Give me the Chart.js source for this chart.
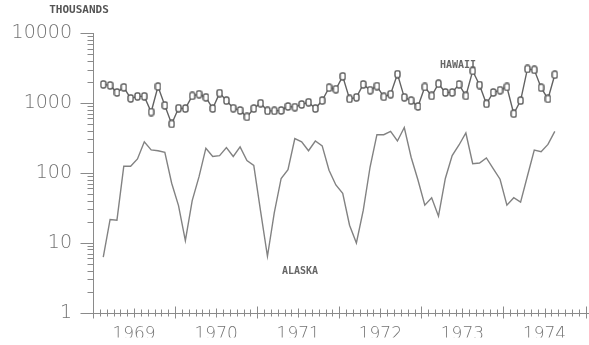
<!DOCTYPE html>
<html>
<head>
<meta charset="utf-8">
<script src="https://cdn.jsdelivr.net/npm/chart.js@4.4.1/dist/chart.umd.min.js"></script>
<style>
    html, body { margin: 0; padding: 0; background: #fff; overflow: hidden; }
    #wrap { width: 589px; height: 345px; position: relative; }
</style>
</head>
<body>
<div id="wrap"><canvas id="visitorChart"></canvas></div>
<script>
// monthly series, first point = Feb 1969 (x counted in months from Jan 1969, mid-month)
const yearLabels = ['1969', '1970', '1971', '1972', '1973', '1974'];
const firstMonth = 1.5;
const yTicks = [1, 10, 100, 1000, 10000];

const hawaii = [1840, 1780, 1410, 1670, 1160, 1240, 1240, 740, 1710, 920,
    500, 840, 830, 1260, 1330, 1200, 830, 1380, 1080, 840,
    780, 630, 830, 990, 770, 770, 780, 890, 870, 950,
    1020, 830, 1080, 1650, 1570, 2400, 1140, 1200, 1840, 1520,
    1740, 1220, 1330, 2580, 1200, 1080, 890, 1690, 1260, 1880,
    1410, 1410, 1840, 1260, 2870, 1800, 970, 1410, 1520, 1690,
    700, 1080, 3060, 2970, 1650, 1140, 2530];

const alaska = [6.2, 21.5, 21, 124, 124, 158, 278, 213, 207, 196,
    71, 34, 10.7, 40, 88, 225, 171, 176, 230, 171,
    235, 150, 128, 28, 6.4, 27, 83, 111, 309, 278,
    207, 285, 243, 109, 67, 51, 17.8, 9.9, 29, 121,
    351, 351, 392, 285, 445, 167, 79, 34.5, 44, 24,
    83, 176, 250, 371, 135, 138, 163, 115, 81, 34.5,
    44, 38, 90, 211, 200, 255, 392];

const labelColor = '#737373';
const axisColor = '#8a8a8a';

// little "0"-shaped marker like the plotter used
function makeMarker() {
    const c = document.createElement('canvas');
    c.width = 7; c.height = 9;
    const g = c.getContext('2d');
    g.fillStyle = '#fff';
    g.strokeStyle = '#5a5a5a';
    g.lineWidth = 1.4;
    g.beginPath();
    g.roundRect(1, 1, 5, 7, 2);
    g.fill();
    g.stroke();
    return c;
}

const axisMarks = {
    id: 'axisMarks',
    afterDraw(chart) {
        const { ctx, chartArea, scales: { x, y } } = chart;
        ctx.save();
        ctx.strokeStyle = axisColor;
        ctx.lineWidth = 1;
        ctx.beginPath();
        const left = Math.round(chartArea.left) + 0.5;
        const bottom = Math.round(chartArea.bottom) + 0.5;
        ctx.moveTo(left, Math.round(y.getPixelForValue(10000)));
        ctx.lineTo(left, bottom);
        ctx.lineTo(chart.width, bottom);

        for (let m = 0; m <= x.max; m++) {
            const px = Math.round(x.getPixelForValue(m)) + 0.5;
            let up = 4, down = 3;
            if (m % 12 === 0) { up = 7; down = 5; }
            else if (m % 12 === 6) { up = 5; down = 4; }
            ctx.moveTo(px, bottom - up);
            ctx.lineTo(px, bottom + down);
        }

        for (let d = 1; d <= 10000; d *= 10) {
            for (let k = 1; k < 10; k++) {
                const v = d * k;
                if (v > 10000) break;
                const py = Math.round(y.getPixelForValue(v)) + 0.5;
                const len = k === 1 ? 13 : 6;
                ctx.moveTo(left - len, py);
                ctx.lineTo(left, py);
            }
        }
        ctx.stroke();

        ctx.fillStyle = '#555';
        ctx.textAlign = 'center';
        ctx.textBaseline = 'middle';
        ctx.font = 'bold 11px "DejaVu Sans Mono"';
        ctx.fillText('THOUSANDS', 79, 10);
        ctx.fillStyle = '#666';
        ctx.font = 'bold 10px "DejaVu Sans Mono"';
        ctx.fillText('HAWAII', 458, 65);
        ctx.fillText('ALASKA', 300, 271);
        ctx.restore();
    }
};

const ctx = document.getElementById('visitorChart').getContext('2d');
const chart = new Chart(ctx, {
    type: 'line',
    data: {
        datasets: [{
            label: 'Hawaii',
            data: hawaii.map((v, i) => ({ x: firstMonth + i, y: v })),
            borderColor: '#626262',
            borderWidth: 1.4,
            pointStyle: makeMarker(),
            pointRadius: 4,
            tension: 0
        }, {
            label: 'Alaska',
            data: alaska.map((v, i) => ({ x: firstMonth + i, y: v })),
            borderColor: '#828282',
            borderWidth: 1.4,
            pointRadius: 0,
            tension: 0
        }]
    },
    options: {
        responsive: true,
        maintainAspectRatio: false,
        animation: false,
        devicePixelRatio: 1,
        layout: { autoPadding: false, padding: { top: 33, right: 0, bottom: 0, left: 0 } },
        plugins: {
            legend: { display: false },
            tooltip: { enabled: false }
        },
        scales: {
            x: {
                type: 'linear',
                min: 0,
                max: 72.5,
                grid: { display: false, drawTicks: false },
                border: { display: false },
                afterBuildTicks: (s) => { s.ticks = yearLabels.map((_, i) => ({ value: i * 12 + 6 })); },
                afterFit: (s) => { s.height = 25; s.paddingLeft = 0; s.paddingRight = 0; },
                ticks: {
                    autoSkip: false,
                    maxRotation: 0,
                    padding: 12,
                    color: labelColor,
                    font: { family: 'DejaVu Sans', size: 17, weight: '200' },
                    callback: (v) => yearLabels[(v - 6) / 12]
                }
            },
            y: {
                type: 'logarithmic',
                min: 1,
                max: 10000,
                grid: { display: false, drawTicks: false },
                border: { display: false },
                afterBuildTicks: (s) => { s.ticks = yTicks.map(v => ({ value: v })); },
                afterFit: (s) => { s.width = 93; },
                ticks: {
                    padding: 21,
                    color: labelColor,
                    font: { family: 'DejaVu Sans', size: 19, weight: '200' },
                    callback: (v) => String(v)
                }
            }
        }
    },
    plugins: [axisMarks]
});
</script>
</body>
</html>
